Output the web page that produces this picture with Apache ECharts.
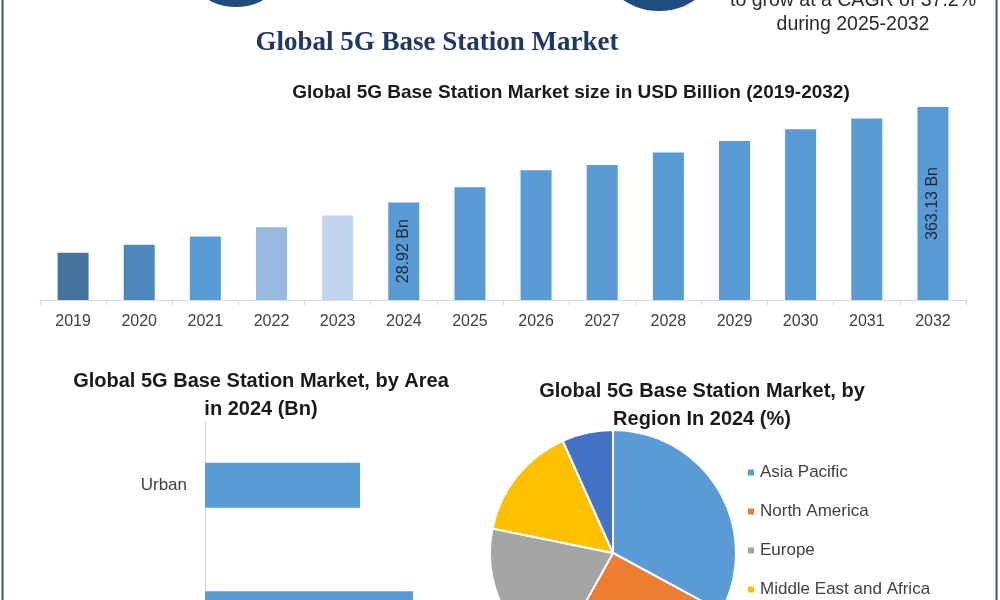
<!DOCTYPE html>
<html>
<head>
    <meta charset="UTF-8">
    <script src="https://cdn.jsdelivr.net/npm/echarts@6/dist/echarts.min.js"></script>
    <style>
        html, body { margin: 0; padding: 0; background: #fff; }
        #container { width: 1000px; height: 600px; }
    </style>
</head>
<body>
<div id="container"></div>

<script type="text/javascript">
    // market size by year (bar heights as drawn, scaled so 2032 = 363.13)
    var years = ['2019', '2020', '2021', '2022', '2023', '2024', '2025',
        '2026', '2027', '2028', '2029', '2030', '2031', '2032'];
    var marketSize = [88.9, 103.9, 119.7, 137.1, 159.1, 183.5, 212.3,
        244.2, 254.2, 277.5, 299.3, 321.2, 341.3, 363.13];
    var barNotes = ['', '', '', '', '', '28.92 Bn', '', '', '', '', '', '', '', '363.13 Bn'];
    var barColors = ['#44739e', '#4c87bd', '#5b9bd5', '#98b9e0', '#c0d4ee', '#5b9bd5', '#5b9bd5',
        '#5b9bd5', '#5b9bd5', '#5b9bd5', '#5b9bd5', '#5b9bd5', '#5b9bd5', '#5b9bd5'];

    // by area, 2024 (Bn)
    var areas = ['Urban', 'Rural'];
    var areaValues = [12.35, 16.57];

    // by region, 2024 (%)
    var regions = ['Asia Pacific', 'North America', 'Europe', 'Middle East and Africa', 'South America'];
    var regionShare = [32.9, 25.2, 20.1, 15.1, 6.7];
    var regionColors = ['#5b9bd5', '#ed7d31', '#a5a5a5', '#ffc000', '#4472c4'];

    var font = 'Liberation Sans';

    var dom = document.getElementById('container');
    var myChart = echarts.init(dom, null, {renderer: 'canvas'});

    var barData = marketSize.map(function (v, i) {
        var item = {value: v, itemStyle: {color: barColors[i]}};
        if (barNotes[i]) {
            item.label = {
                show: true,
                position: 'inside',
                rotate: 90,
                formatter: barNotes[i],
                color: '#1b2a3a',
                fontFamily: font,
                fontSize: 16
            };
        }
        return item;
    });

    var option = {
        backgroundColor: '#ffffff',
        animation: false,
        title: [
            {
                text: 'Global 5G Base Station Market size in USD Billion (2019-2032)',
                left: 566, top: 78, textAlign: 'center',
                textStyle: {fontFamily: font, fontSize: 19, fontWeight: 'bold', color: '#1a1a1a'}
            },
            {
                text: 'Global 5G Base Station Market, by Area\nin 2024 (Bn)',
                left: 256, top: 362, textAlign: 'center',
                textStyle: {fontFamily: font, fontSize: 20, fontWeight: 'bold', color: '#1a1a1a', lineHeight: 28}
            },
            {
                text: 'Global 5G Base Station Market, by\nRegion In 2024 (%)',
                left: 697, top: 372, textAlign: 'center',
                textStyle: {fontFamily: font, fontSize: 20, fontWeight: 'bold', color: '#1a1a1a', lineHeight: 28}
            }
        ],
        graphic: [
            {
                type: 'rect', silent: true,
                shape: {x: 2.5, y: -10, width: 994, height: 620},
                style: {fill: 'none', stroke: '#3b5672', lineWidth: 2}
            },
            {type: 'circle', shape: {cx: 236, cy: -50, r: 57}, style: {fill: '#1f4e7e'}},
            {type: 'circle', shape: {cx: 659, cy: -53, r: 64}, style: {fill: '#1f4e7e'}},
            {
                type: 'text', x: 853, y: 1,
                style: {
                    text: 'to grow at a CAGR of 37.2%', fill: '#2a2a2a',
                    font: '19.5px "' + font + '"', textAlign: 'center', textVerticalAlign: 'middle'
                }
            },
            {
                type: 'text', x: 853, y: 25,
                style: {
                    text: 'during 2025-2032', fill: '#2a2a2a',
                    font: '19.5px "' + font + '"', textAlign: 'center', textVerticalAlign: 'middle'
                }
            },
            {
                type: 'text', x: 437, y: 43,
                style: {
                    text: 'Global 5G Base Station Market', fill: '#1f3864',
                    font: 'bold 27px "Liberation Serif"', textAlign: 'center', textVerticalAlign: 'middle'
                }
            }
        ],
        grid: [
            {left: 40, right: 34, top: 107, bottom: 300, outerBoundsMode: 'none'},
            {left: 205, width: 251, top: 421, height: 257, outerBoundsMode: 'none'}
        ],
        xAxis: [
            {
                gridIndex: 0,
                type: 'category',
                data: years,
                axisLine: {lineStyle: {color: '#d9d9d9'}},
                axisTick: {show: true, length: 5, lineStyle: {color: '#d9d9d9'}},
                axisLabel: {color: '#404040', fontFamily: font, fontSize: 16, margin: 14}
            },
            {
                gridIndex: 1,
                type: 'value',
                min: 0, max: 20,
                show: false
            }
        ],
        yAxis: [
            {
                gridIndex: 0,
                type: 'value',
                min: 0, max: 363.13,
                show: false
            },
            {
                gridIndex: 1,
                type: 'category',
                data: areas,
                inverse: true,
                axisLine: {show: true, lineStyle: {color: '#d9d9d9'}},
                axisTick: {show: false},
                axisLabel: {color: '#404040', fontFamily: font, fontSize: 17, margin: 18}
            }
        ],
        legend: {
            orient: 'vertical',
            left: 741, top: 459,
            height: 260,
            icon: 'rect',
            itemWidth: 8, itemHeight: 8,
            itemGap: 22,
            data: regions,
            textStyle: {color: '#404040', fontFamily: font, fontSize: 17}
        },
        series: [
            {
                type: 'bar',
                xAxisIndex: 0, yAxisIndex: 0,
                barWidth: 31,
                data: barData
            },
            {
                type: 'bar',
                xAxisIndex: 1, yAxisIndex: 1,
                barWidth: 45,
                itemStyle: {color: '#5b9bd5'},
                data: areaValues
            },
            {
                type: 'pie',
                center: [613, 553],
                radius: 123,
                startAngle: 90,
                clockwise: true,
                label: {show: false},
                labelLine: {show: false},
                itemStyle: {borderColor: '#ffffff', borderWidth: 2},
                data: regions.map(function (r, i) {
                    return {name: r, value: regionShare[i], itemStyle: {color: regionColors[i]}};
                })
            }
        ]
    };

    myChart.setOption(option);
    window.addEventListener('resize', myChart.resize);
</script>
</body>
</html>
